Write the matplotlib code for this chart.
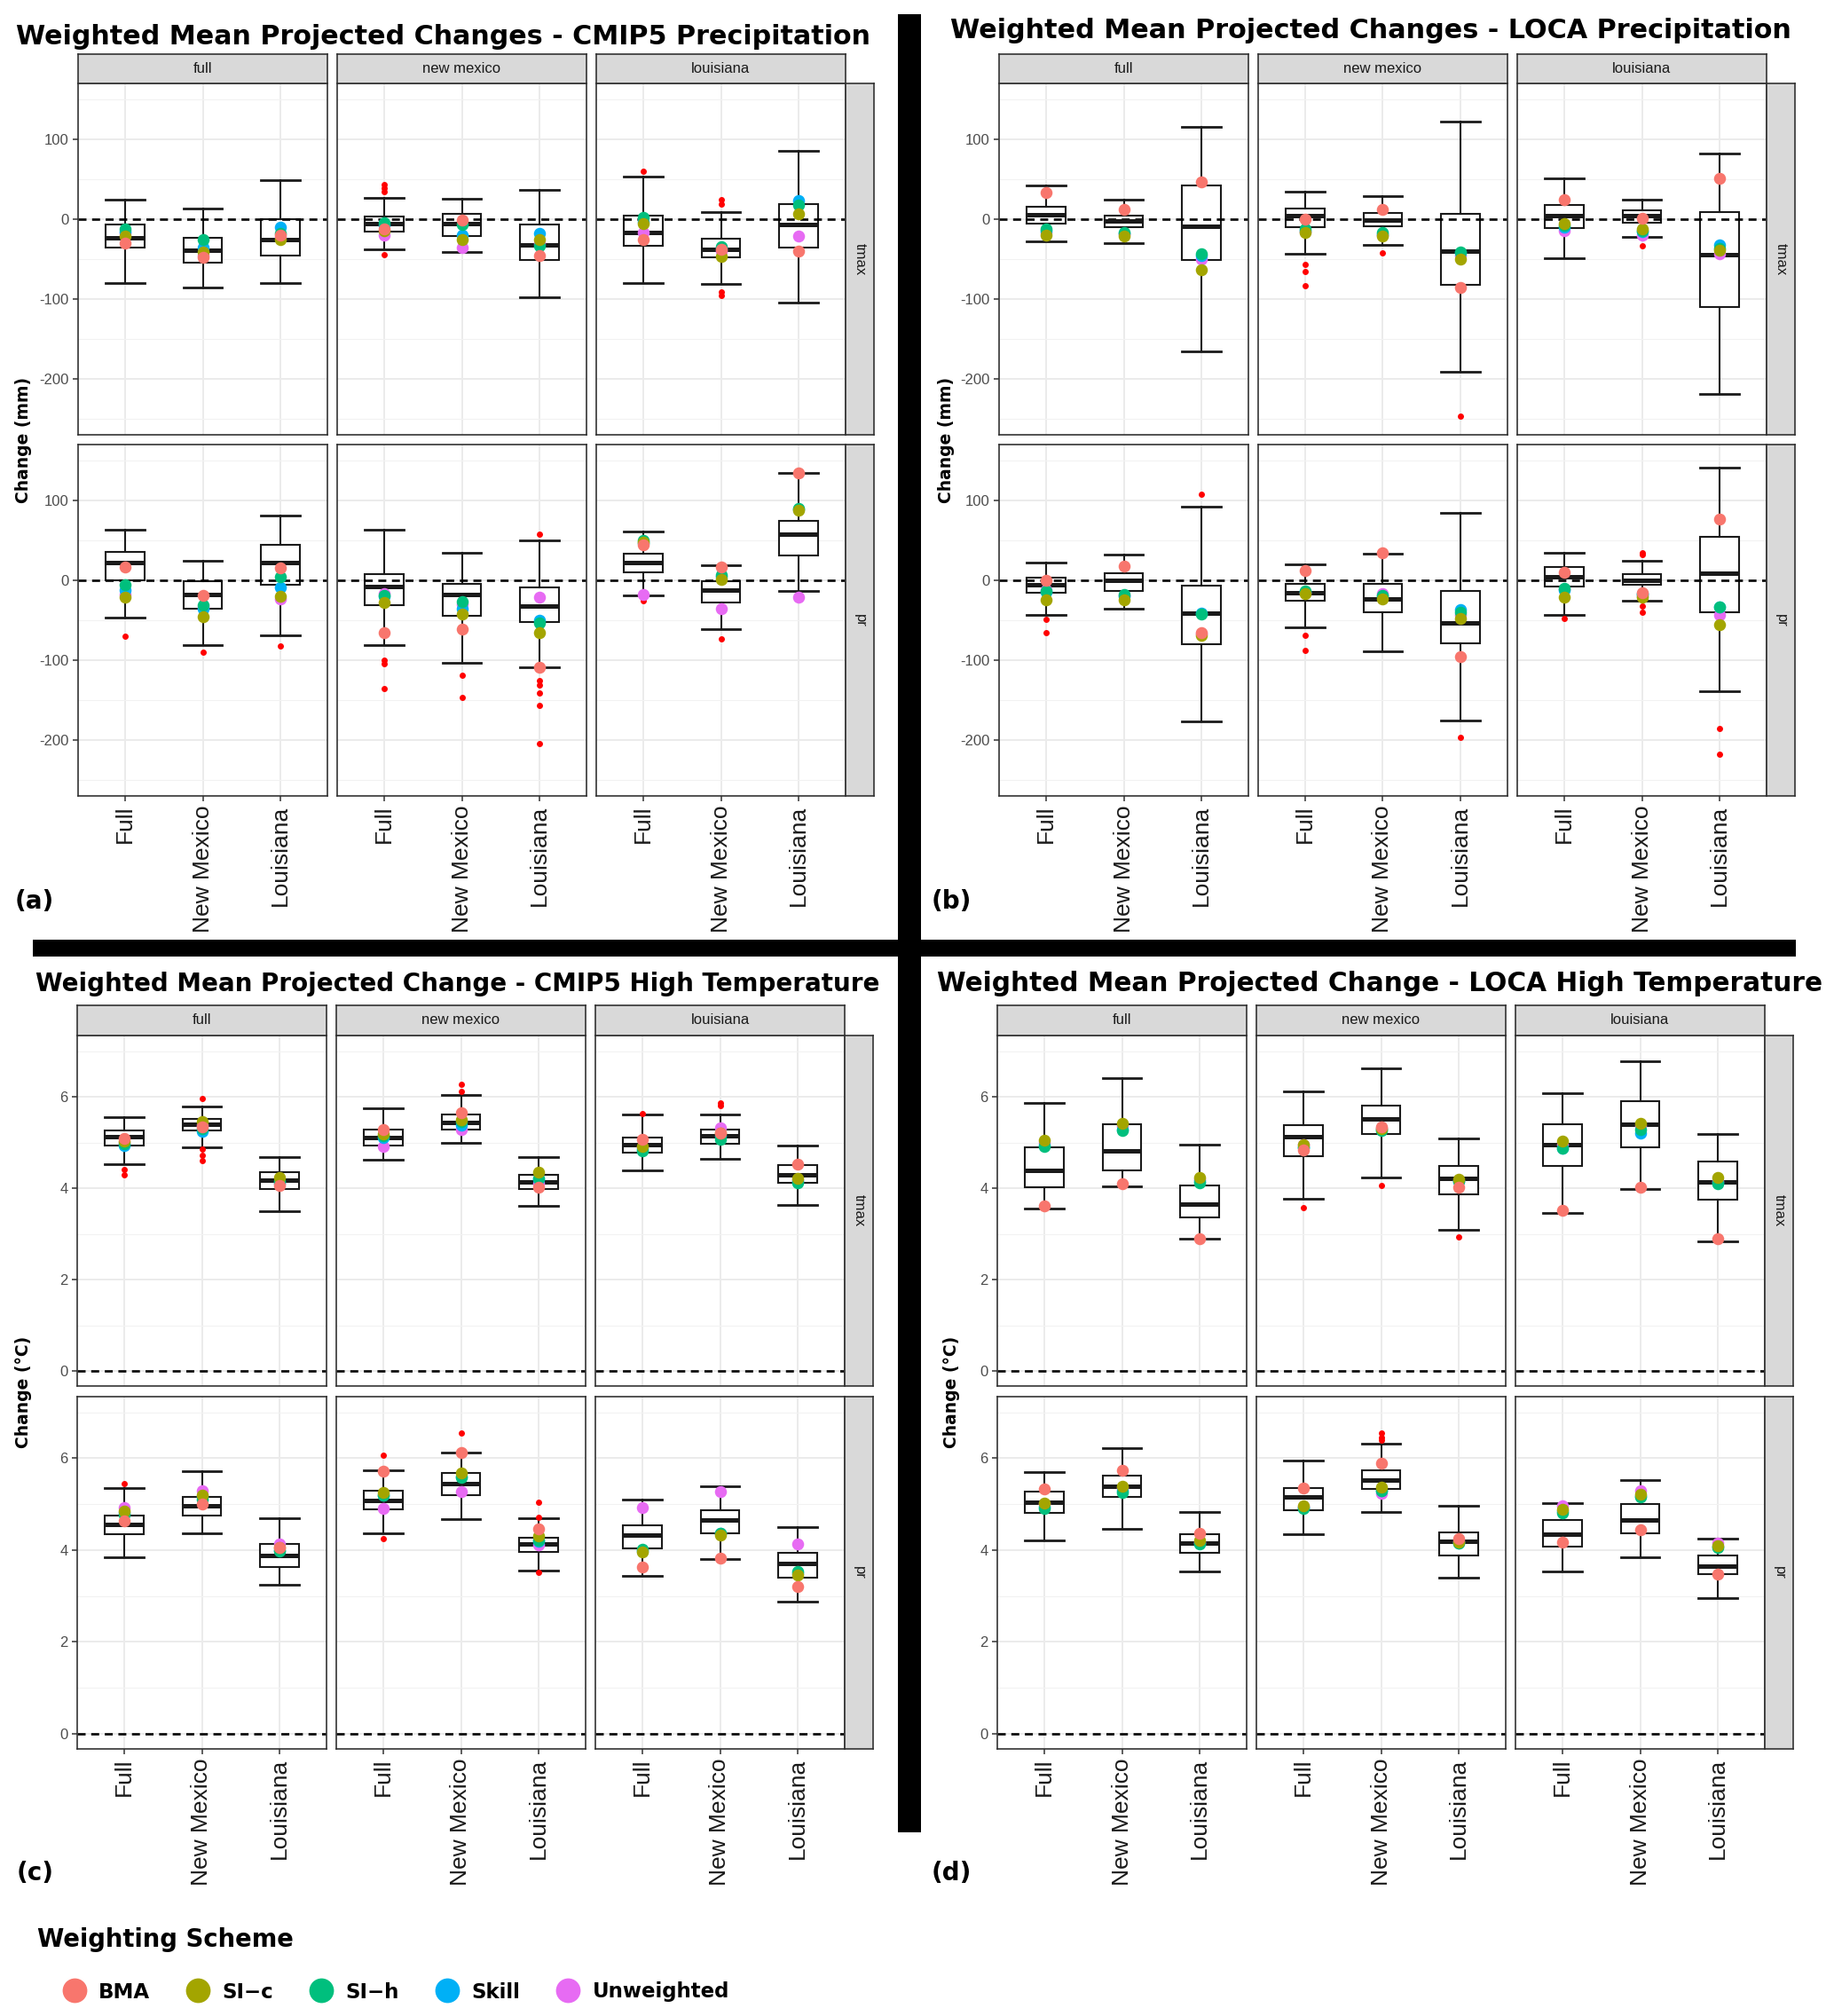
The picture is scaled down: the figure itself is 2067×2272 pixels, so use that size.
import matplotlib
matplotlib.use("Agg")
import matplotlib.pyplot as plt
from matplotlib.lines import Line2D

W, H = 2067, 2272

SCHEMES = ["BMA", "SI\u2212c", "SI\u2212h", "Skill", "Unweighted"]
SCHEME_COLORS = ["#F8766D", "#A3A500", "#00BF7D", "#00B0F6", "#E76BF3"]
BOX_LABELS = ["Full", "New Mexico", "Louisiana"]
FACETS = ["full", "new mexico", "louisiana"]
ROW_VARS = ["tmax", "pr"]

# Panel order everywhere: tmax/full, tmax/new mexico, tmax/louisiana,
# pr/full, pr/new mexico, pr/louisiana. Each panel: Full, New Mexico, Louisiana boxes.

# ---- (a) CMIP5 precipitation (mm) ----
cmip5_pr_hi = [[25, 13, 49], [27, 26, 37], [53, 9, 86], [63, 24, 81], [63, 35, 50], [61, 19, 135]]
cmip5_pr_q3 = [[-7, -23, 0], [3, 7, -7], [4, -24, 19], [36, -1, 44], [8, -4, -9], [33, -1, 74]]
cmip5_pr_med = [[-23, -39, -26], [-6, -6, -32], [-17, -38, -7], [22, -18, 22], [-8, -18, -32], [22, -12, 58]]
cmip5_pr_q1 = [[-36, -54, -45], [-15, -21, -51], [-33, -48, -36], [0, -35, -6], [-31, -44, -52], [10, -28, 31]]
cmip5_pr_lo = [[-80, -86, -80], [-38, -41, -98], [-80, -81, -104], [-47, -81, -69], [-81, -103, -109], [-19, -61, -13]]
cmip5_pr_out = [
    [[], [], []], [[43, 39, 34, -44], [], []], [[60], [24, 19, -91, -96], []],
    [[-70], [-90], [-82]], [[-100, -104, -135], [-119, -147], [58, -125, -131, -141, -157, -204]], [[-25], [-73], []],
]
cmip5_pr_bma = [[-30, -48, -20], [-12, -1, -45], [-26, -38, -40], [17, -19, 16], [-65, -61, -109], [44, 17, 134]]
cmip5_pr_sic = [[-21, -41, -25], [-14, -26, -25], [-6, -47, 7], [-21, -45, -20], [-28, -42, -65], [48, 1, 88]]
cmip5_pr_sih = [[-12, -25, -18], [-4, -7, -33], [2, -34, 18], [-5, -31, 4], [-19, -27, -53], [50, 7, 90]]
cmip5_pr_skill = [[-15, -35, -10], [-8, -20, -18], [-3, -36, 23], [-12, -36, -9], [-20, -35, -50], [47, 5, 89]]
cmip5_pr_unw = [[-18, -45, -22], [-20, -36, -30], [-17, -40, -21], [-18, -33, -23], [-17, -30, -21], [-18, -36, -21]]

# ---- (b) LOCA precipitation (mm) ----
loca_pr_hi = [[42, 24, 116], [34, 29, 122], [51, 24, 82], [22, 32, 92], [20, 33, 84], [35, 25, 141]]
loca_pr_q3 = [[16, 4, 42], [13, 8, 7], [18, 11, 9], [3, 9, -7], [-4, -4, -13], [17, 8, 54]]
loca_pr_med = [[6, -2, -9], [4, -1, -40], [5, 4, -44], [-6, 0, -41], [-15, -23, -53], [5, 0, 9]]
loca_pr_q1 = [[-6, -10, -51], [-10, -9, -82], [-11, -4, -110], [-16, -13, -80], [-26, -40, -79], [-8, -6, -40]]
loca_pr_lo = [[-28, -30, -165], [-43, -32, -191], [-49, -22, -219], [-43, -36, -177], [-59, -89, -175], [-43, -25, -139]]
loca_pr_out = [
    [[], [], []], [[-57, -65, -83], [-42], [-247]], [[], [-33], []],
    [[-49, -66], [], [108]], [[-69, -88], [], [-197]], [[-48], [35, 32, -32, -40], [-185, -218]],
]
loca_pr_bma = [[33, 12, 47], [0, 12, -86], [25, 1, 51], [0, 18, -65], [12, 34, -96], [10, -15, 77]]
loca_pr_sic = [[-20, -21, -63], [-17, -21, -50], [-6, -12, -39], [-24, -24, -69], [-17, -23, -48], [-21, -21, -56]]
loca_pr_sih = [[-12, -17, -43], [-12, -17, -41], [-8, -14, -37], [-13, -18, -42], [-13, -19, -40], [-10, -18, -33]]
loca_pr_skill = [[-14, -18, -45], [-14, -19, -42], [-10, -16, -32], [-14, -20, -41], [-14, -20, -37], [-12, -17, -33]]
loca_pr_unw = [[-17, -19, -50], [-16, -20, -45], [-14, -20, -43], [-12, -19, -67], [-15, -17, -43], [-11, -20, -43]]

# ---- (c) CMIP5 high temperature (deg C) ----
cmip5_tx_hi = [[5.55, 5.78, 4.68], [5.75, 6.03, 4.68], [5.61, 5.61, 4.93], [5.35, 5.72, 4.70], [5.73, 6.12, 4.70], [5.10, 5.38, 4.50]]
cmip5_tx_q3 = [[5.27, 5.51, 4.35], [5.28, 5.61, 4.30], [5.11, 5.29, 4.50], [4.76, 5.16, 4.13], [5.30, 5.67, 4.27], [4.54, 4.87, 3.94]]
cmip5_tx_med = [[5.13, 5.40, 4.17], [5.11, 5.44, 4.14], [4.95, 5.15, 4.30], [4.55, 4.97, 3.89], [5.08, 5.44, 4.13], [4.32, 4.65, 3.71]]
cmip5_tx_q1 = [[4.93, 5.27, 3.98], [4.93, 5.29, 3.98], [4.77, 4.98, 4.12], [4.34, 4.75, 3.64], [4.88, 5.20, 3.96], [4.04, 4.37, 3.40]]
cmip5_tx_lo = [[4.52, 4.89, 3.50], [4.63, 5.00, 3.62], [4.39, 4.65, 3.64], [3.84, 4.36, 3.24], [4.37, 4.67, 3.56], [3.44, 3.80, 2.87]]
cmip5_tx_out = [
    [[4.41, 4.30], [5.97, 4.85, 4.72, 4.61], []], [[], [6.28, 6.12], []], [[5.63], [5.86, 5.81], []],
    [[5.44], [], []], [[6.07, 4.24], [6.54], [5.04, 4.72, 3.51]], [[], [], []],
]
cmip5_tx_bma = [[5.09, 5.34, 4.05], [5.28, 5.66, 4.01], [5.07, 5.21, 4.52], [4.63, 5.00, 4.05], [5.71, 6.12, 4.46], [3.63, 3.83, 3.21]]
cmip5_tx_sic = [[5.02, 5.45, 4.24], [5.19, 5.50, 4.34], [4.92, 5.20, 4.22], [4.84, 5.19, 4.05], [5.26, 5.68, 4.30], [3.96, 4.33, 3.45]]
cmip5_tx_sih = [[4.98, 5.30, 4.15], [5.15, 5.45, 4.21], [4.81, 5.07, 4.11], [4.78, 5.10, 3.98], [5.20, 5.59, 4.21], [4.01, 4.37, 3.53]]
cmip5_tx_skill = [[4.93, 5.24, 4.12], [5.11, 5.37, 4.20], [4.85, 5.15, 4.15], [4.80, 5.15, 4.00], [5.19, 5.60, 4.20], [3.98, 4.37, 3.50]]
cmip5_tx_unw = [[5.00, 5.38, 4.10], [4.92, 5.28, 4.10], [4.90, 5.32, 4.18], [4.93, 5.30, 4.14], [4.91, 5.28, 4.12], [4.93, 5.28, 4.14]]

# ---- (d) LOCA high temperature (deg C) ----
loca_tx_hi = [[5.87, 6.41, 4.95], [6.12, 6.63, 5.08], [6.08, 6.78, 5.18], [5.69, 6.21, 4.83], [5.94, 6.31, 4.97], [5.02, 5.52, 4.24]]
loca_tx_q3 = [[4.89, 5.40, 4.05], [5.37, 5.81, 4.48], [5.40, 5.91, 4.59], [5.28, 5.63, 4.34], [5.35, 5.74, 4.39], [4.66, 5.00, 3.89]]
loca_tx_med = [[4.39, 4.81, 3.66], [5.13, 5.52, 4.21], [4.95, 5.40, 4.13], [5.05, 5.38, 4.15], [5.16, 5.52, 4.20], [4.34, 4.66, 3.65]]
loca_tx_q1 = [[4.01, 4.39, 3.35], [4.69, 5.18, 3.86], [4.49, 4.90, 3.74], [4.80, 5.16, 3.94], [4.87, 5.34, 3.89], [4.07, 4.36, 3.48]]
loca_tx_lo = [[3.56, 4.03, 2.90], [3.77, 4.24, 3.09], [3.45, 3.98, 2.83], [4.21, 4.46, 3.53], [4.35, 4.82, 3.40], [3.53, 3.85, 2.96]]
loca_tx_out = [
    [[], [], []], [[3.58], [4.06], [2.94]], [[], [], []],
    [[], [], []], [[], [6.55, 6.46, 6.40], []], [[], [], []],
]
loca_tx_bma = [[3.61, 4.10, 2.90], [4.84, 5.34, 4.01], [3.51, 4.01, 2.89], [5.34, 5.74, 4.36], [5.35, 5.90, 4.24], [4.17, 4.45, 3.47]]
loca_tx_sic = [[5.05, 5.42, 4.24], [4.96, 5.30, 4.19], [5.02, 5.42, 4.24], [5.02, 5.38, 4.21], [4.97, 5.36, 4.17], [4.88, 5.22, 4.10]]
loca_tx_sih = [[4.92, 5.26, 4.12], [4.90, 5.26, 4.15], [4.87, 5.28, 4.10], [4.91, 5.26, 4.14], [4.91, 5.29, 4.15], [4.81, 5.16, 4.05]]
loca_tx_skill = [[4.93, 5.28, 4.15], [4.90, 5.28, 4.15], [4.88, 5.21, 4.12], [4.95, 5.30, 4.15], [4.93, 5.30, 4.15], [4.85, 5.18, 4.07]]
loca_tx_unw = [[5.00, 5.35, 4.20], [4.95, 5.32, 4.15], [4.95, 5.35, 4.15], [5.00, 5.35, 4.18], [4.95, 5.24, 4.20], [4.96, 5.29, 4.15]]

PR_TICKS = ([-200, -100, 0, 100], [-250, -150, -50, 50, 150], (-270, 170))
TX_TICKS = ([0, 2, 4, 6], [1, 3, 5, 7], (-0.33, 7.34))

QUADRANTS = [
    dict(letter="(a)", title="Weighted Mean Projected Changes - CMIP5 Precipitation", ylabel="Change (mm)",
         ticks=PR_TICKS, x0=88, rows=((94, 490), (501, 897)), strip_y=61,
         title_xy=(18, 50), title_fs=21.7, letter_xy=(17, 1016), ylab_x=26,
         box=(cmip5_pr_hi, cmip5_pr_q3, cmip5_pr_med, cmip5_pr_q1, cmip5_pr_lo, cmip5_pr_out),
         dots=(cmip5_pr_bma, cmip5_pr_sic, cmip5_pr_sih, cmip5_pr_skill, cmip5_pr_unw)),
    dict(letter="(b)", title="Weighted Mean Projected Changes - LOCA Precipitation", ylabel="Change (mm)",
         ticks=PR_TICKS, x0=1126, rows=((94, 490), (501, 897)), strip_y=61,
         title_xy=(1071, 43), title_fs=21.8, letter_xy=(1050, 1016), ylab_x=1066,
         box=(loca_pr_hi, loca_pr_q3, loca_pr_med, loca_pr_q1, loca_pr_lo, loca_pr_out),
         dots=(loca_pr_bma, loca_pr_sic, loca_pr_sih, loca_pr_skill, loca_pr_unw)),
    dict(letter="(c)", title="Weighted Mean Projected Change - CMIP5 High Temperature", ylabel="Change (\u00b0C)",
         ticks=TX_TICKS, x0=87, rows=((1167, 1562), (1574, 1971)), strip_y=1133,
         title_xy=(40, 1117), title_fs=20, letter_xy=(19, 2111), ylab_x=26,
         box=(cmip5_tx_hi, cmip5_tx_q3, cmip5_tx_med, cmip5_tx_q1, cmip5_tx_lo, cmip5_tx_out),
         dots=(cmip5_tx_bma, cmip5_tx_sic, cmip5_tx_sih, cmip5_tx_skill, cmip5_tx_unw)),
    dict(letter="(d)", title="Weighted Mean Projected Change - LOCA High Temperature", ylabel="Change (\u00b0C)",
         ticks=TX_TICKS, x0=1124, rows=((1167, 1562), (1574, 1971)), strip_y=1133,
         title_xy=(1056, 1117), title_fs=21.3, letter_xy=(1050, 2111), ylab_x=1073,
         box=(loca_tx_hi, loca_tx_q3, loca_tx_med, loca_tx_q1, loca_tx_lo, loca_tx_out),
         dots=(loca_tx_bma, loca_tx_sic, loca_tx_sih, loca_tx_skill, loca_tx_unw)),
]

COL_W, COL_GAP, STRIP_W = 281, 11, 32
BORDER = "#333333"
BOLD = ["DejaVu Sans"]
PLAIN = ["Liberation Sans", "DejaVu Sans"]


def px_axes(fig, x0, y0, x1, y1, **kw):
    return fig.add_axes([x0 / W, 1 - y1 / H, (x1 - x0) / W, (y1 - y0) / H], **kw)


def strip(ax, text, rotation=0):
    ax.set_facecolor("#D9D9D9")
    ax.set_xticks([])
    ax.set_yticks([])
    for sp in ax.spines.values():
        sp.set_color(BORDER)
        sp.set_linewidth(1.2)
    ax.text(0.5, 0.5, text, transform=ax.transAxes, ha="center", va="center",
            rotation=rotation, fontsize=12, family=PLAIN, color="#1A1A1A")


def draw_panel(ax, q, idx, show_y, show_x):
    hi, q3, med, q1, lo, out = q["box"]
    major, minor, lims = q["ticks"]
    stats = []
    for k in range(3):
        stats.append(dict(med=med[idx][k], q1=q1[idx][k], q3=q3[idx][k],
                          whislo=lo[idx][k], whishi=hi[idx][k],
                          fliers=out[idx][k], label=BOX_LABELS[k]))
    ax.bxp(stats, positions=[1, 2, 3], widths=0.5, capwidths=0.5, patch_artist=True,
           manage_ticks=False,
           boxprops=dict(facecolor="white", edgecolor="#1A1A1A", linewidth=1.5, zorder=2),
           whiskerprops=dict(color="#1A1A1A", linewidth=1.5, zorder=2),
           capprops=dict(color="#1A1A1A", linewidth=2.0, zorder=2),
           medianprops=dict(color="#1A1A1A", linewidth=3.6, zorder=3),
           flierprops=dict(marker="o", markerfacecolor="#FF0000", markeredgewidth=0,
                           markersize=5, zorder=3))
    ax.axhline(0, color="black", linestyle=(0, (3.4, 2.4)), linewidth=1.9, zorder=2.5)

    # unweighted first so the BMA points end up on top
    for j in [4, 3, 2, 1, 0]:
        ax.scatter([1, 2, 3], q["dots"][j][idx], s=95, color=SCHEME_COLORS[j],
                   linewidths=0, zorder=4)

    ax.set_xlim(0.4, 3.6)
    ax.set_ylim(*lims)
    ax.set_yticks(major)
    ax.set_yticks(minor, minor=True)
    ax.set_xticks([1, 2, 3])
    ax.grid(which="major", color="#EBEBEB", linewidth=1.4, zorder=0)
    ax.grid(which="minor", axis="y", color="#F2F2F2", linewidth=0.8, zorder=0)
    ax.set_axisbelow(True)
    for sp in ax.spines.values():
        sp.set_color(BORDER)
        sp.set_linewidth(1.2)
    ax.tick_params(which="minor", length=0)
    ax.tick_params(which="major", length=4, width=1.1, color=BORDER)
    if show_y:
        ax.set_yticklabels([f"{t:g}" for t in major], fontsize=12, family=PLAIN, color="#4D4D4D")
    else:
        ax.tick_params(axis="y", length=0)
        ax.set_yticklabels([])
    if show_x:
        ax.set_xticklabels(BOX_LABELS, rotation=90, fontsize=19, family=PLAIN,
                           color="#1A1A1A", ha="center", va="top")
    else:
        ax.tick_params(axis="x", length=0)
        ax.set_xticklabels([])


def main():
    fig = plt.figure(figsize=(W / 100, H / 100), dpi=100)
    fig.patch.set_facecolor("white")

    for q in QUADRANTS:
        x0 = q["x0"]
        cols = [(x0 + c * (COL_W + COL_GAP), x0 + c * (COL_W + COL_GAP) + COL_W) for c in range(3)]
        for r, (y0, y1) in enumerate(q["rows"]):
            for c, (cx0, cx1) in enumerate(cols):
                ax = px_axes(fig, cx0, y0, cx1, y1)
                draw_panel(ax, q, r * 3 + c, show_y=(c == 0), show_x=(r == 1))
                if r == 0:
                    strip(px_axes(fig, cx0, q["strip_y"], cx1, y0), FACETS[c])
            sx = cols[2][1]
            strip(px_axes(fig, sx, y0, sx + STRIP_W, y1), ROW_VARS[r], rotation=-90)

        tx, ty = q["title_xy"]
        fig.text(tx / W, 1 - ty / H, q["title"], ha="left", va="baseline",
                 fontsize=q["title_fs"], fontweight="bold", family=BOLD)
        lx, ly = q["letter_xy"]
        fig.text(lx / W, 1 - ly / H, q["letter"], ha="left", va="center",
                 fontsize=20, fontweight="bold", family=BOLD)
        ymid = (q["rows"][0][0] + q["rows"][1][1]) / 2
        fig.text(q["ylab_x"] / W, 1 - ymid / H, q["ylabel"], rotation=90, ha="center",
                 va="center", fontsize=13.5, fontweight="bold", family=BOLD)

    # heavy separators between the four figures
    fig.add_artist(plt.Rectangle((37 / W, 1 - 1078 / H), (2024 - 37) / W, 19 / H,
                                 transform=fig.transFigure, color="black", lw=0))
    fig.add_artist(plt.Rectangle((1012 / W, 1 - 2065 / H), 26 / W, (2065 - 16) / H,
                                 transform=fig.transFigure, color="black", lw=0))

    fig.text(42 / W, 1 - 2186 / H, "Weighting Scheme", ha="left", va="center",
             fontsize=19.8, fontweight="bold", family=BOLD)
    handles = [Line2D([], [], marker="o", linestyle="none", markersize=20,
                      markerfacecolor=col, markeredgewidth=0) for col in SCHEME_COLORS]
    fig.legend(handles, SCHEMES, loc="center left", bbox_to_anchor=(70 / W, 1 - 2245 / H),
               ncol=5, frameon=False, borderpad=0, borderaxespad=0, handlelength=1.2,
               handletextpad=0.6, columnspacing=1.75,
               prop=dict(family=BOLD, weight="bold", size=16.5))

    fig.savefig("out.png", dpi=100, facecolor="white")


if __name__ == "__main__":
    main()
